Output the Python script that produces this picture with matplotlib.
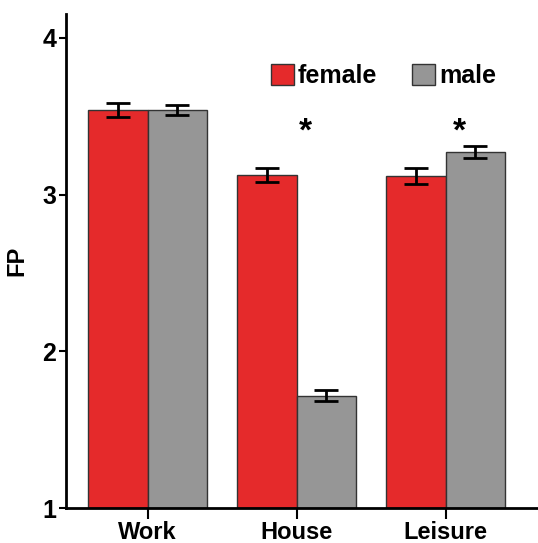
import numpy as np
import matplotlib.pyplot as plt

plt.rcParams['font.family'] = ['Liberation Sans', 'DejaVu Sans']
plt.rcParams['font.weight'] = 'bold'

categories = ['Work', 'House', 'Leisure']
female = [3.54, 3.125, 3.12]
female_err = [0.045, 0.047, 0.05]
male = [3.54, 1.717, 3.27]
male_err = [0.03, 0.035, 0.04]
star_x = [1.06, 2.09]
star_y = [3.4, 3.4]

red = '#e52a2b'
gray = '#969696'
base = 1

fig = plt.figure(figsize=(5.38, 5.43), dpi=100)
ax = fig.add_axes([0.123, 0.064, 0.877, 0.91])

x = np.arange(len(categories))
w = 0.4
ekw = dict(elinewidth=2, capthick=2, capsize=8.5, ecolor='black')
ax.bar(x - w / 2, np.array(female) - base, w, bottom=base, color=red,
       edgecolor='#333333', linewidth=1, label='female', yerr=female_err, error_kw=ekw)
ax.bar(x + w / 2, np.array(male) - base, w, bottom=base, color=gray,
       edgecolor='#333333', linewidth=1, label='male', yerr=male_err, error_kw=ekw)

for sx, sy in zip(star_x, star_y):
    ax.text(sx, sy, '*', ha='center', va='center', fontsize=24, fontweight='bold')

ax.set_xlim(-0.547, 2.62)
ax.set_ylim(1, 4.15)
ax.set_yticks([1, 2, 3, 4])
ax.set_xticks(x)
ax.set_xticklabels(categories)
ax.set_ylabel('FP', fontsize=17, fontweight='bold', labelpad=10)
ax.tick_params(axis='y', labelsize=18, width=1.5, length=5, pad=2)
ax.tick_params(axis='x', labelsize=17, width=1.5, length=8, pad=1)
for s in ['top', 'right']:
    ax.spines[s].set_visible(False)
for s in ['left', 'bottom']:
    ax.spines[s].set_linewidth(2)

ax.legend(loc='center left', bbox_to_anchor=(0.435, 0.875), ncol=2, frameon=False,
          fontsize=18, handlelength=0.9, handleheight=0.9, handletextpad=0.16,
          columnspacing=1.4, borderpad=0, borderaxespad=0)

fig.savefig('out.png', dpi=100)
